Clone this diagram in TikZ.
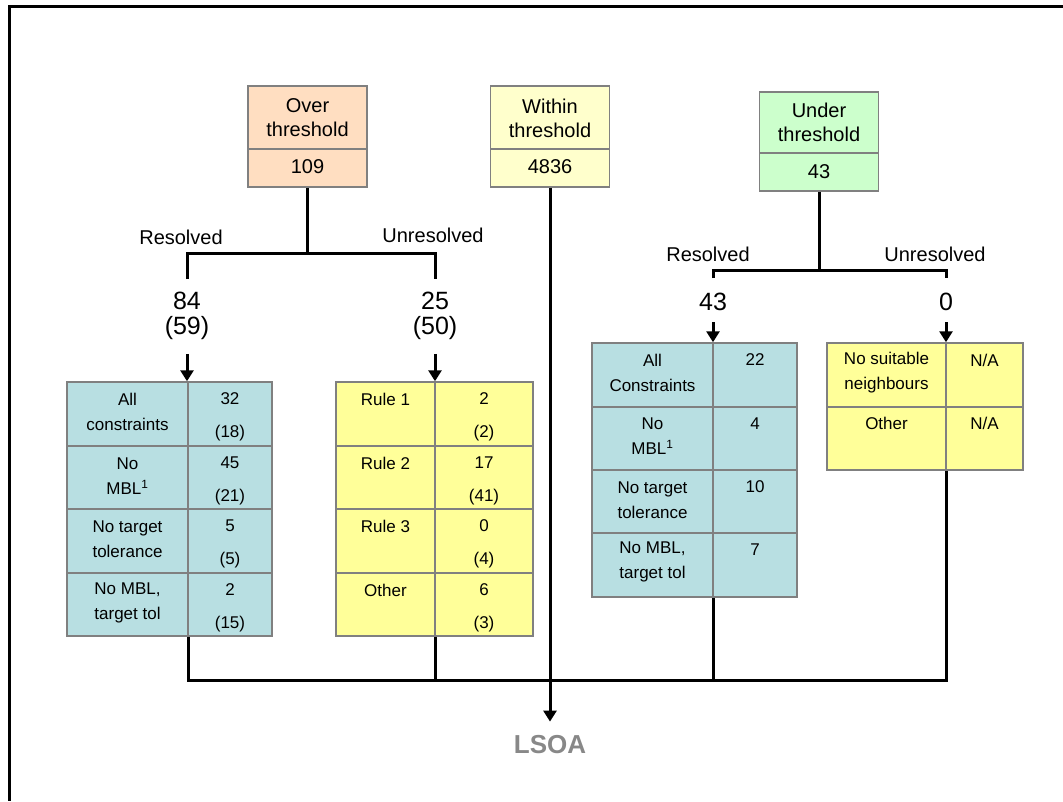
\documentclass[tikz,border=0pt]{standalone}
\usepackage{fontspec}
\setmainfont{Liberation Sans}
\usepackage{tikz}
\usetikzlibrary{arrows.meta}

\definecolor{overclr}{RGB}{255,222,193}
\definecolor{withinclr}{RGB}{255,255,204}
\definecolor{underclr}{RGB}{204,255,204}
\definecolor{resclr}{RGB}{184,223,226}
\definecolor{unresclr}{RGB}{255,255,153}
\definecolor{edgeclr}{RGB}{128,128,128}
\definecolor{lsoaclr}{RGB}{136,136,136}

\begin{document}
\begin{tikzpicture}[x=1pt,y=-1pt,
  link/.style={line width=3pt},
  linkarr/.style={line width=3pt,-{Triangle[width=13pt,length=11pt]}},
  topbox/.style={draw=edgeclr,line width=1.5pt,minimum width=119pt,inner sep=0pt},
  tabbox/.style={draw=edgeclr,line width=1.5pt,inner sep=0pt},
  rule/.style={draw=edgeclr,line width=1.2pt},
  toptext/.style={font=\fontsize{20}{24}\selectfont,align=center},
  branch/.style={font=\fontsize{20}{24}\selectfont},
  count/.style={font=\fontsize{25}{25}\selectfont,align=center},
  celltext/.style={font=\fontsize{17}{25}\selectfont,align=center},
  cellnum/.style={font=\fontsize{17}{33}\selectfont,align=center}]

\useasboundingbox (0,0) rectangle (1063,801);
\draw [link] (1063,6) -- (9.5,6) -- (9.5,801);

% threshold boxes
\node [topbox, fill=overclr, minimum height=101pt] (over) at (307.5,136.5) {};
\node [topbox, fill=withinclr, minimum height=101pt] (within) at (550,136.5) {};
\node [topbox, fill=underclr, minimum height=99pt] (under) at (819,141.5) {};
\draw [rule] (248,149) -- (367,149);
\draw [rule] (491,149) -- (609,149);
\draw [rule] (760,153) -- (878,153);
\node [toptext] (overlbl) at (307.5,118) {Over\\threshold};
\node [toptext] (overnum) at (307.5,167) {109};
\node [toptext] (withinlbl) at (550,118) {Within\\threshold};
\node [toptext] (withinnum) at (550,167) {4836};
\node [toptext] (underlbl) at (819,122) {Under\\threshold};
\node [toptext] (undernum) at (819,172) {43};

% over threshold branch
\coordinate (overfork) at (307.5,253);
\coordinate (resAtop) at (187,253);
\coordinate (unresAtop) at (435,253);
\coordinate (resAend) at (187,279);
\coordinate (unresAend) at (435,279);
\draw [link] (over.south) -- (overfork);
\draw [link] (resAend) -- (resAtop) -- (unresAtop) -- (unresAend);
\node [branch] (resAlbl) at (181,237) {Resolved};
\node [branch] (unresAlbl) at (433,235) {Unresolved};
\node [count] (resAcnt) at (187,315.5) {84\\(59)};
\node [count] (unresAcnt) at (435,315.5) {25\\(50)};

% under threshold branch
\coordinate (underfork) at (819,270);
\coordinate (resBtop) at (713,270);
\coordinate (unresBtop) at (946,270);
\coordinate (resBend) at (713,278);
\coordinate (unresBend) at (946,278);
\draw [link] (under.south) -- (underfork);
\draw [link] (resBend) -- (resBtop) -- (unresBtop) -- (unresBend);
\node [branch] (resBlbl) at (708,254) {Resolved};
\node [branch] (unresBlbl) at (935,254) {Unresolved};
\node [count] (resBcnt) at (713,302) {43};
\node [count] (unresBcnt) at (946,302) {0};

% tables
\node [tabbox, fill=resclr, minimum width=205pt, minimum height=254pt] (resAtab) at (169.5,509) {};
\node [tabbox, fill=unresclr, minimum width=197pt, minimum height=254pt] (unresAtab) at (434.5,509) {};
\node [tabbox, fill=resclr, minimum width=205pt, minimum height=254pt] (resBtab) at (694.5,470) {};
\node [tabbox, fill=unresclr, minimum width=196pt, minimum height=127pt] (unresBtab) at (925,406.5) {};

\draw [rule] (188,382) -- (188,636);
\draw [rule] (67,446) -- (272,446);
\draw [rule] (67,509) -- (272,509);
\draw [rule] (67,573) -- (272,573);
\draw [rule] (435,382) -- (435,636);
\draw [rule] (336,446) -- (533,446);
\draw [rule] (336,509) -- (533,509);
\draw [rule] (336,573) -- (533,573);
\draw [rule] (713,343) -- (713,597);
\draw [rule] (592,407) -- (797,407);
\draw [rule] (592,470) -- (797,470);
\draw [rule] (592,533) -- (797,533);
\draw [rule] (946,343) -- (946,470);
\draw [rule] (827,407) -- (1023,407);

% resolved, over
\node [celltext] (ra1) at (127.5,412) {All\\constraints};
\node [cellnum] (ra1n) at (230,417) {32\\(18)};
\node [celltext] (ra2) at (127.5,476) {No\\MBL\textsuperscript{1}};
\node [cellnum] (ra2n) at (230,481) {45\\(21)};
\node [celltext] (ra3) at (127.5,539) {No target\\tolerance};
\node [cellnum] (ra3n) at (230,544) {5\\(5)};
\node [celltext] (ra4) at (127.5,603) {No MBL,\\target tol};
\node [cellnum] (ra4n) at (230,608) {2\\(15)};

% unresolved, over
\node [celltext] (ua1) at (385.5,399) {Rule 1};
\node [cellnum] (ua1n) at (484,417) {2\\(2)};
\node [celltext] (ua2) at (385.5,463) {Rule 2};
\node [cellnum] (ua2n) at (484,481) {17\\(41)};
\node [celltext] (ua3) at (385.5,526) {Rule 3};
\node [cellnum] (ua3n) at (484,544) {0\\(4)};
\node [celltext] (ua4) at (385.5,590) {Other};
\node [cellnum] (ua4n) at (484,608) {6\\(3)};

% resolved, under
\node [celltext] (rb1) at (652.5,373) {All\\Constraints};
\node [celltext] (rb1n) at (755,360) {22};
\node [celltext] (rb2) at (652.5,436) {No\\MBL\textsuperscript{1}};
\node [celltext] (rb2n) at (755,424) {4};
\node [celltext] (rb3) at (652.5,500) {No target\\tolerance};
\node [celltext] (rb3n) at (755,487) {10};
\node [celltext] (rb4) at (652.5,562) {No MBL,\\target tol};
\node [celltext] (rb4n) at (755,550) {7};

% unresolved, under
\node [celltext] (ub1) at (886.5,373) {No suitable\\neighbours};
\node [celltext] (ub1n) at (984.5,360) {N/A};
\node [celltext] (ub2) at (886.5,423) {Other};
\node [celltext] (ub2n) at (984.5,423) {N/A};

% arrows into tables
\draw [linkarr, shorten <=11pt] (resAcnt.south) -- (resAtab.north -| resAend);
\draw [linkarr, shorten <=11pt] (unresAcnt.south) -- (unresAtab.north -| unresAend);
\draw [linkarr, shorten <=8pt] (resBcnt.south) -- (resBtab.north -| resBend);
\draw [linkarr, shorten <=8pt] (unresBcnt.south) -- (unresBtab.north -| unresBend);

% collecting bar
\coordinate (barL) at (188,680);
\coordinate (barR) at (946,680);
\draw [link] (resAtab.south -| barL) -- (barL) -- (barR) -- (unresBtab.south -| barR);
\draw [link] (unresAtab.south -| unresAend) -- (unresAend |- barL);
\draw [link] (resBtab.south -| resBend) -- (resBend |- barL);

\node [font=\fontsize{26}{26}\selectfont\bfseries, text=lsoaclr, inner sep=14pt] (lsoa) at (550,745) {LSOA};
\draw [linkarr] (within.south) -- (lsoa.north);
\end{tikzpicture}
\end{document}
